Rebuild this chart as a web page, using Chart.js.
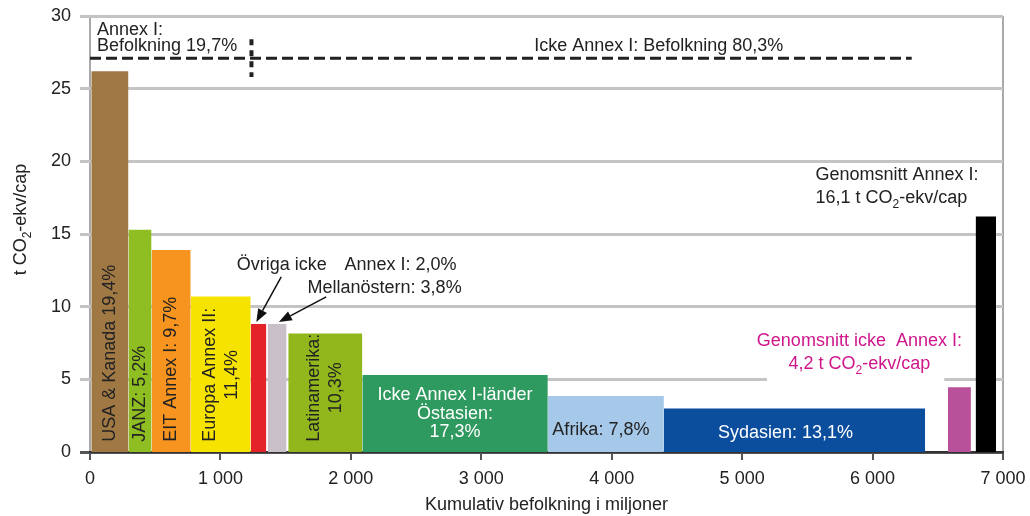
<!DOCTYPE html>
<html lang="sv">
<head>
<meta charset="UTF-8">
<title>Utsläpp per capita och kumulativ befolkning</title>
<style>
    html, body { margin: 0; padding: 0; background: #fff; }
    #wrap { width: 1030px; height: 516px; }
</style>
</head>
<body>
<div id="wrap"><canvas id="chart" width="1030" height="516"></canvas></div>

<script src="https://cdn.jsdelivr.net/npm/chart.js"></script>
<script>
// regions, population interval (millions, cumulative) and emissions per capita
const regions = ['USA & Kanada', 'JANZ', 'EIT Annex I', 'Europa Annex II', 'Övriga icke Annex I', 'Mellanöstern',
                 'Latinamerika', 'Östasien', 'Afrika', 'Sydasien', 'Genomsnitt icke Annex I', 'Genomsnitt Annex I'];
const popStart = [10, 295, 472, 772, 1232, 1362, 1520, 2088, 3510, 4400, 6577, 6790];
const popEnd   = [295, 472, 772, 1232, 1352, 1507, 2088, 3510, 4400, 6403, 6754, 6947];
const perCapita = [26.2, 15.3, 13.9, 10.7, 8.8, 8.8, 8.15, 5.3, 3.85, 3.0, 4.45, 16.2];
const barColors = ['#a07844', '#8fbe22', '#f6941f', '#f7e300', '#e3222a', '#c8bfc8',
                   '#91b71c', '#2f9a5f', '#a6c9e9', '#0b4e9d', '#b8519a', '#000000'];
const barText = [['USA & Kanada 19,4%'], ['JANZ: 5,2%'], ['EIT Annex I: 9,7%'], ['Europa Annex II:', '11,4%'], [], [],
                 ['Latinamerika:', '10,3%'], ['Icke Annex I-länder', 'Östasien:', '17,3%'], ['Afrika: 7,8%'], ['Sydasien: 13,1%'], [], []];

// x ticks and the annex I / non annex I population split
const xTicks = [0, 1000, 2000, 3000, 4000, 5000, 6000, 7000];
const annexLevel = 27.1;
const annexSplit = 1238;
const annexLineEnd = 6300;
const yTitle = 't CO₂-ekv/cap';

const FONT = '"Liberation Sans", Arial, sans-serif';
Chart.defaults.font.family = FONT;
Chart.defaults.color = '#222';

function fmt(v) {
    return String(v).replace(/\B(?=(\d{3})+(?!\d))/g, ' ');
}

const datasets = regions.map((name, i) => ({
    label: name,
    data: [
        { x: popStart[i], y: 0 },
        { x: popStart[i], y: perCapita[i] },
        { x: popEnd[i], y: perCapita[i] },
        { x: popEnd[i], y: 0 }
    ],
    showLine: true,
    fill: 'origin',
    backgroundColor: barColors[i],
    borderColor: 'rgba(0,0,0,0)',
    borderWidth: 0,
    pointRadius: 0,
    tension: 0
}));

datasets.push({
    label: 'Annex I gräns',
    data: [{ x: 0, y: annexLevel }, { x: annexLineEnd, y: annexLevel }],
    showLine: true, fill: false, borderColor: '#222', borderWidth: 3, borderDash: [11, 5], pointRadius: 0
});
datasets.push({
    label: 'Delning',
    data: [{ x: annexSplit, y: 28.4 }, { x: annexSplit, y: 25.8 }],
    showLine: true, fill: false, borderColor: '#222', borderWidth: 4, borderDash: [6, 5], pointRadius: 0
});

// how the text inside/next to each bar is set
const textStyle = {
    0: { mode: 'v', color: '#222' },
    1: { mode: 'v', color: '#222' },
    2: { mode: 'v', color: '#222' },
    3: { mode: 'v', color: '#222' },
    6: { mode: 'v', color: '#222' },
    7: { mode: 'h', color: '#fff', y: 3.9 },
    8: { mode: 'h', color: '#222', y: 1.5, x: 3917 },
    9: { mode: 'h', color: '#fff', y: 1.3, x: 5333 }
};

const notes = [
    { text: 'Övriga icke', x: 1125, y: 12.86, align: 'left' },
    { text: 'Annex I: 2,0%', x: 1951, y: 12.86, align: 'left' },
    { text: 'Mellanöstern: 3,8%', x: 1668, y: 11.27, align: 'left' },
    { text: 'Genomsnitt Annex I:', x: 5562, y: 19.06, align: 'left' },
    { text: '16,1 t CO₂-ekv/cap', x: 5562, y: 17.47, align: 'left' },
    { text: 'Genomsnitt icke  Annex I:', x: 5899, y: 7.62, align: 'center', color: '#cf168b' },
    { text: '4,2 t CO₂-ekv/cap', x: 5899, y: 6.04, align: 'center', color: '#cf168b' },
    { text: 'Annex I:', x: 54, y: 29.04, align: 'left' },
    { text: 'Befolkning 19,7%', x: 54, y: 27.9, align: 'left' },
    { text: 'Icke Annex I: Befolkning 80,3%', x: 4361, y: 27.9, align: 'center' }
];

const arrows = [
    { from: [1466, 12.05], to: [1275, 8.95] },
    { from: [1811, 10.67], to: [1448, 8.95] }
];

// text with a real subscript 2
function richText(c, str, x, y, align, size, color) {
    const main = size + 'px ' + FONT;
    const sub = Math.round(size * 0.68) + 'px ' + FONT;
    const parts = str.split('₂');
    let w = 0;
    parts.forEach((p, i) => {
        c.font = main; w += c.measureText(p).width;
        if (i < parts.length - 1) { c.font = sub; w += c.measureText('2').width; }
    });
    let cx = align === 'center' ? x - w / 2 : x;
    c.fillStyle = color;
    c.textAlign = 'left';
    c.textBaseline = 'middle';
    parts.forEach((p, i) => {
        c.font = main; c.fillText(p, cx, y); cx += c.measureText(p).width;
        if (i < parts.length - 1) {
            c.font = sub; c.fillText('2', cx, y + size * 0.35); cx += c.measureText('2').width;
        }
    });
}

const labelPlugin = {
    id: 'labels',
    beforeDatasetsDraw(chart) {
        // white box behind the magenta note hides the grid there
        const xs = chart.scales.x, ys = chart.scales.y, c = chart.ctx;
        c.save();
        c.fillStyle = '#fff';
        c.fillRect(xs.getPixelForValue(5190), ys.getPixelForValue(8.75), xs.getPixelForValue(6550) - xs.getPixelForValue(5190),
                   ys.getPixelForValue(4.7) - ys.getPixelForValue(8.75));
        c.restore();
    },
    afterDatasetsDraw(chart) {
        const xs = chart.scales.x, ys = chart.scales.y, c = chart.ctx;
        const px = v => xs.getPixelForValue(v), py = v => ys.getPixelForValue(v);
        c.save();

        Object.keys(textStyle).forEach(k => {
            const i = +k, st = textStyle[k], lines = barText[i];
            const cx = st.x !== undefined ? px(st.x) : (px(popStart[i]) + px(popEnd[i])) / 2;
            c.font = '18px ' + FONT;
            c.fillStyle = st.color;
            c.textBaseline = 'middle';
            if (st.mode === 'v') {
                const maxW = Math.max(...lines.map(l => c.measureText(l).width));
                const cy = py(0.7) - maxW / 2;
                lines.forEach((l, j) => {
                    c.save();
                    c.translate(cx + (j - (lines.length - 1) / 2) * 22, cy);
                    c.rotate(-Math.PI / 2);
                    c.textAlign = 'center';
                    c.fillText(l, 0, 0);
                    c.restore();
                });
            } else {
                c.textAlign = 'center';
                lines.forEach((l, j) => c.fillText(l, cx, py(st.y) + j * 18.5));
            }
        });

        notes.forEach(n => richText(c, n.text, px(n.x), py(n.y), n.align, 18, n.color || '#222'));

        // y axis title, rotated, with subscript
        c.save();
        c.translate(21, py(16));
        c.rotate(-Math.PI / 2);
        richText(c, yTitle, 0, 0, 'center', 18, '#222');
        c.restore();

        c.strokeStyle = '#111';
        c.fillStyle = '#111';
        c.lineWidth = 1.5;
        arrows.forEach(a => {
            const x0 = px(a.from[0]), y0 = py(a.from[1]), x1 = px(a.to[0]), y1 = py(a.to[1]);
            const ang = Math.atan2(y1 - y0, x1 - x0);
            const hl = 13, hw = 5;
            const bx = x1 - hl * Math.cos(ang), by = y1 - hl * Math.sin(ang);
            c.beginPath(); c.moveTo(x0, y0); c.lineTo(bx, by); c.stroke();
            c.beginPath();
            c.moveTo(x1, y1);
            c.lineTo(bx + hw * Math.sin(ang), by - hw * Math.cos(ang));
            c.lineTo(bx - hw * Math.sin(ang), by + hw * Math.cos(ang));
            c.closePath(); c.fill();
        });
        c.restore();
    }
};

new Chart(document.getElementById('chart'), {
    type: 'scatter',
    data: { datasets: datasets },
    plugins: [labelPlugin],
    options: {
        responsive: false,
        animation: false,
        layout: { padding: { top: 16, right: 27, bottom: 0, left: 0 } },
        plugins: { legend: { display: false }, tooltip: { enabled: false } },
        scales: {
            x: {
                type: 'linear', min: 0, max: 7000,
                afterBuildTicks: s => { s.ticks = xTicks.map(v => ({ value: v })); },
                afterFit: s => { s.height = 64; s.paddingLeft = 0; s.paddingRight = 0; },
                ticks: { font: { size: 18 }, color: '#222', padding: 8, maxRotation: 0, callback: v => fmt(v) },
                grid: {
                    color: ctx => (ctx.tick && (ctx.tick.value === 0 || ctx.tick.value === 7000)) ? '#a9a9a9' : 'rgba(0,0,0,0)',
                    lineWidth: 2,
                    tickColor: '#555', tickLength: 8, tickWidth: 2
                },
                border: { display: true, color: '#333', width: 2 },
                title: { display: true, text: 'Kumulativ befolkning i miljoner', font: { size: 18 }, color: '#222', padding: { top: 0, bottom: 0 } }
            },
            y: {
                min: 0, max: 30,
                afterFit: s => { s.width = 90; s.paddingTop = 0; s.paddingBottom = 0; },
                ticks: { stepSize: 5, font: { size: 18 }, color: '#222', padding: 9 },
                grid: {
                    color: ctx => ctx.tick && ctx.tick.value === 0 ? '#555' : '#c4c4c4',
                    lineWidth: 3,
                    tickLength: 10
                },
                border: { display: false },
                title: { display: false }
            }
        }
    }
});
</script>
</body>
</html>
